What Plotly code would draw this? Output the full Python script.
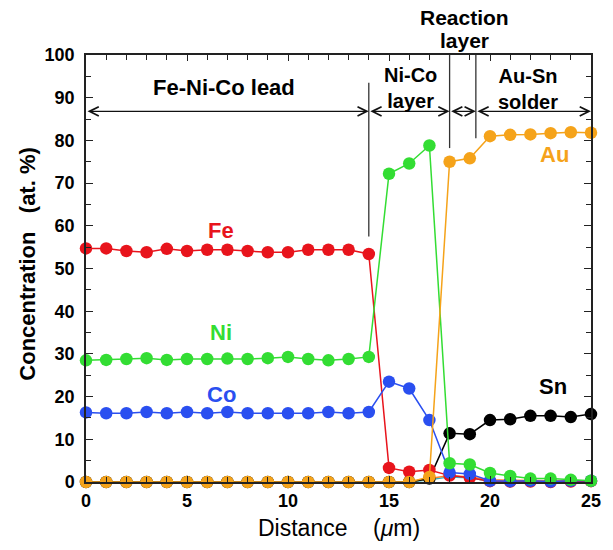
import plotly.graph_objects as go

distance = list(range(26))

fe = [54.7, 54.7, 54.1, 53.8, 54.6, 54.1, 54.4, 54.4, 54.1, 53.8, 53.8, 54.4, 54.4, 54.4, 53.4,
      3.3, 2.4, 2.8, 1.5, 1.0, 0.2, 0.1, 0.1, 0.0, 0.1, 0.2]
ni = [28.5, 28.6, 28.8, 29.0, 28.6, 28.8, 28.8, 28.9, 28.8, 29.0, 29.3, 28.8, 28.5, 28.8, 29.3,
      72.2, 74.6, 78.8, 4.4, 4.1, 2.1, 1.4, 0.8, 0.8, 0.5, 0.3]
co = [16.3, 16.1, 16.1, 16.4, 16.1, 16.4, 16.1, 16.4, 16.1, 16.1, 16.1, 16.1, 16.4, 16.1, 16.4,
      23.5, 21.9, 14.5, 2.2, 1.9, 0.3, 0.2, 0.3, 0.1, 0.3, 0.3]
au = [0.0] * 17 + [1.2, 75.0, 75.8, 81.0, 81.3, 81.4, 81.7, 81.9, 81.8]
sn = [0.0] * 17 + [0.8, 11.4, 11.2, 14.5, 14.7, 15.5, 15.5, 15.2, 15.9]
minor_a = [0.0] * 17 + [0.5, 1.2, 1.0, 0.2, 0.1, 0.1, 0.1, 0.1, 0.1]
minor_b = [0.0] * 17 + [0.8, 1.5, 1.2, 0.5, 0.4, 0.3, 0.3, 0.3, 0.3]

# region boundaries / arrows
bounds = [0, 14, 18, 19.3, 25]
arrow_y = 86.8

series = [
    ("minor A", minor_a, "#2bb5c0", False),
    ("minor B", minor_b, "#ff7f27", False),
    ("Sn", sn, "#000000", True),
    ("Fe", fe, "#e8141c", True),
    ("Co", co, "#2a4ff0", True),
    ("Ni", ni, "#33dd33", True),
    ("Au", au, "#f5a31a", True),
]

fig = go.Figure()
for name, vals, col, mk in series:
    fig.add_trace(go.Scatter(
        x=distance, y=vals, name=name,
        mode="lines+markers" if mk else "lines",
        line=dict(color=col, width=1.5),
        marker=dict(size=12.5, color=col),
        cliponaxis=False, showlegend=False))

bold = "Liberation Sans"
tf = dict(family=bold, size=18, color="black", weight="bold")

fig.update_layout(
    width=613, height=550,
    margin=dict(l=86, r=19, t=55, b=68),
    plot_bgcolor="white", paper_bgcolor="white",
    xaxis=dict(range=[0, 25], tickvals=[0, 5, 10, 15, 20, 25], ticks="inside", ticklen=6,
               tickcolor="#222", showline=True, linecolor="#222", linewidth=1.5, mirror="ticks",
               minor=dict(dtick=1, ticks="inside", ticklen=5, tickcolor="#222"),
               showgrid=False, zeroline=False, tickfont=tf, ticklabelstandoff=2),
    yaxis=dict(range=[0, 100], dtick=10, ticks="inside", ticklen=7, tickcolor="#222",
               showline=True, linecolor="#222", linewidth=1.5, mirror="ticks",
               minor=dict(dtick=5, ticks="inside", ticklen=5, tickcolor="#222"),
               showgrid=False, zeroline=False, tickfont=tf, ticklabelstandoff=6),
)

# vertical boundary lines
vlines = [(14, 57.5, 93.5), (18, 78.2, 100.5), (19.3, 80.5, 100.5)]
for xv, y0, y1 in vlines:
    fig.add_shape(type="line", x0=xv, x1=xv, y0=y0, y1=y1, xref="x", yref="y",
                  line=dict(color="#333", width=1.3))

# double arrows
for a, b in zip(bounds[:-1], bounds[1:]):
    fig.add_annotation(x=b, y=arrow_y, ax=a, ay=arrow_y, xref="x", yref="y",
                       axref="x", ayref="y", text="", showarrow=True,
                       arrowhead=5, startarrowhead=5, arrowside="end+start",
                       arrowsize=1.4, startarrowsize=1.4, arrowwidth=1.3,
                       arrowcolor="#111", standoff=0, startstandoff=0)

texts = [
    ("Fe-Ni-Co lead", 6.85, 92.3, 22),
    ("Ni-Co<br>layer", 16.05, 92.2, 20),
    ("Au-Sn<br>solder", 21.9, 92.1, 20),
]
for t, xx, yy, fs in texts:
    fig.add_annotation(x=xx, y=yy, xref="x", yref="y", text=t, showarrow=False,
                       font=dict(family=bold, size=fs, color="black", weight="bold"),
                       xanchor="center", yanchor="middle")

# texts above the plot area (paper y)
top_texts = [("Reaction", 18.75, 1.087), ("layer", 18.75, 1.035)]
for t, xx, yy in top_texts:
    fig.add_annotation(x=xx, y=yy, xref="x", yref="paper", text=t, showarrow=False,
                       font=dict(family=bold, size=21, color="black", weight="bold"),
                       xanchor="center", yanchor="middle")

labels = [
    ("Fe", 6.7, 59.0, "#e8141c"),
    ("Ni", 6.7, 34.9, "#33dd33"),
    ("Co", 6.7, 20.6, "#2a4ff0"),
    ("Au", 23.2, 76.6, "#f5a31a"),
    ("Sn", 23.1, 22.4, "#000000"),
]
for t, xx, yy, c in labels:
    fig.add_annotation(x=xx, y=yy, xref="x", yref="y", text=t, showarrow=False,
                       font=dict(family=bold, size=22, color=c, weight="bold"),
                       xanchor="center", yanchor="middle")

# axis titles
fig.add_annotation(x=0.5, y=-0.108, xref="paper", yref="paper",
                   text="Distance\u00a0\u00a0\u00a0\u00a0(<i>\u03bc</i>m)", showarrow=False,
                   font=dict(family=bold, size=23, color="black"),
                   xanchor="center", yanchor="middle")
fig.add_annotation(x=-0.116, y=0.51, xref="paper", yref="paper",
                   text="Concentration\u00a0\u00a0\u00a0(at. %)", showarrow=False, textangle=-90,
                   font=dict(family=bold, size=22, color="black", weight="bold"),
                   xanchor="center", yanchor="middle")

fig.write_html("out.html")
